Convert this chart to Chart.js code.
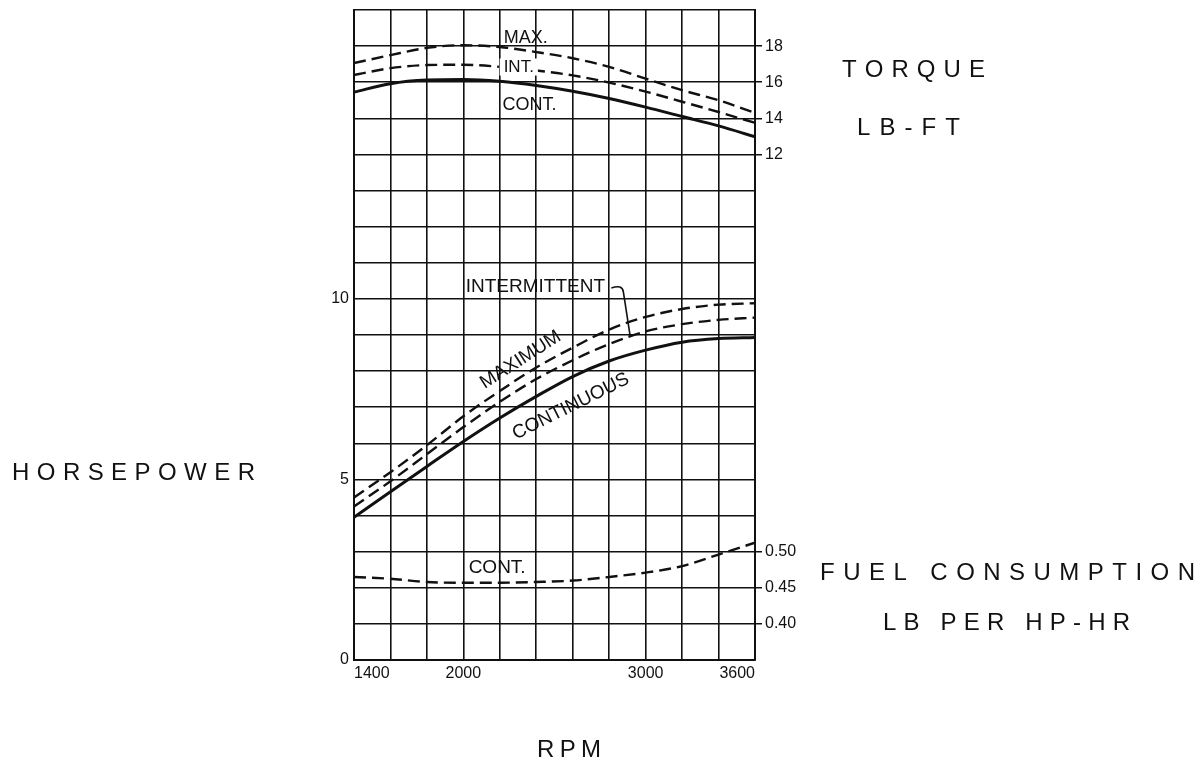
<!DOCTYPE html>
<html>
<head>
<meta charset="utf-8">
<script src="https://cdn.jsdelivr.net/npm/chart.js@4.4.1/dist/chart.umd.min.js"></script>
<style>
  html, body { margin: 0; padding: 0; background: #fff; }
  #wrap { width: 1202px; height: 765px; }
</style>
</head>
<body>
<div id="wrap"><canvas id="engine-chart" width="1202" height="765"></canvas></div>
<script>
// values
const rpm = [1400, 1600, 1800, 2000, 2200, 2400, 2600, 2800, 3000, 3200, 3400, 3600];

const torqueMax  = [17.06, 17.50, 17.90, 18.05, 17.95, 17.67, 17.33, 16.85, 16.20, 15.56, 15.00, 14.30];
const torqueInt  = [16.40, 16.78, 16.95, 16.97, 16.85, 16.65, 16.38, 15.98, 15.48, 14.92, 14.35, 13.75];
const torqueCont = [15.45, 15.92, 16.12, 16.15, 16.05, 15.82, 15.50, 15.10, 14.62, 14.10, 13.58, 12.98];

const hpMax  = [4.50, 5.20, 5.95, 6.75, 7.45, 8.10, 8.65, 9.15, 9.50, 9.72, 9.84, 9.88];
const hpInt  = [4.25, 4.95, 5.70, 6.45, 7.15, 7.78, 8.30, 8.75, 9.10, 9.30, 9.42, 9.48];
const hpCont = [3.95, 4.66, 5.36, 6.05, 6.70, 7.30, 7.85, 8.28, 8.58, 8.80, 8.90, 8.93];

const fuelCont = [0.465, 0.4625, 0.458, 0.457, 0.457, 0.458, 0.460, 0.465, 0.471, 0.480, 0.496, 0.5125];

const rpmTicks = [1400, 2000, 3000, 3600];
const hpTicks = [0, 5, 10];
const torqueTicks = [12, 14, 16, 18];
const fuelTicks = [0.40, 0.45, 0.50];

// axis ranges (torque and fuel share the horsepower grid)
const HP_MIN = 0, HP_MAX = 18;
const TQ_MIN = -16, TQ_MAX = 20;
const FUEL_MIN = 0.35, FUEL_MAX = 1.25;

const INK = '#111';
const FONT = '"Liberation Sans", Arial, sans-serif';

function pts(ys) {
    return rpm.map((r, i) => ({ x: r, y: ys[i] }));
}

// right-hand label: torque near the top, fuel figures near the bottom
function rightLabel(v) {
    if (torqueTicks.includes(v)) return String(v);
    const f = FUEL_MIN + (v - TQ_MIN) / (TQ_MAX - TQ_MIN) * (FUEL_MAX - FUEL_MIN);
    const hit = fuelTicks.find(t => Math.abs(t - f) < 1e-6);
    return hit !== undefined ? hit.toFixed(2) : '';
}

// text on the curves, placed in data units
const curveLabels = [
    { text: 'MAX.', x: 2221, y: 17.09, angle: 0, size: 18 },
    { text: 'INT.', x: 2221, y: 16.28, angle: 0, size: 17, knockout: true },
    { text: 'CONT.', x: 2215, y: 15.23, angle: 0, size: 18 },
    { text: 'INTERMITTENT', x: 2013, y: 10.19, angle: 0, size: 19 },
    { text: 'MAXIMUM', x: 2314, y: 8.31, angle: -32.6, size: 19, center: true },
    { text: 'CONTINUOUS', x: 2590, y: 7.02, angle: -26.5, size: 19, center: true },
    { text: 'CONT.', x: 2029, y: 2.41, angle: 0, size: 19 }
];
const intermittentHook = [[2812, 10.30], [2872, 10.41], [2878, 10.19], [2916, 8.94]];

// titles around the grid (canvas pixels)
const titles = [
    { text: 'TORQUE', x: 842, y: 77, w: 143 },
    { text: 'LB-FT', x: 857, y: 135, w: 103 },
    { text: 'HORSEPOWER', x: 12, y: 480, w: 243 },
    { text: 'FUEL CONSUMPTION', x: 820, y: 580, w: 375 },
    { text: 'LB PER HP-HR', x: 883, y: 630, w: 247 },
    { text: 'RPM', x: 537, y: 757, w: 64 }
];

function spacedText(ctx, text, x, y, width) {
    const chars = [...text];
    const raw = chars.reduce((s, c) => s + ctx.measureText(c).width, 0);
    const gap = chars.length > 1 ? (width - raw) / (chars.length - 1) : 0;
    let cx = x;
    for (const c of chars) {
        ctx.fillText(c, cx, y);
        cx += ctx.measureText(c).width + gap;
    }
}

const annotations = {
    id: 'annotations',
    afterDraw(chart) {
        const ctx = chart.ctx;
        const xs = chart.scales.x, ys = chart.scales.y;
        ctx.save();
        ctx.fillStyle = INK;
        ctx.strokeStyle = INK;
        ctx.textBaseline = 'alphabetic';
        curveLabels.forEach(l => {
            ctx.save();
            ctx.font = l.size + 'px ' + FONT;
            ctx.translate(xs.getPixelForValue(l.x), ys.getPixelForValue(l.y));
            ctx.rotate(l.angle * Math.PI / 180);
            if (l.center) {
                ctx.textAlign = 'center';
                ctx.textBaseline = 'middle';
            } else {
                ctx.textAlign = 'left';
            }
            if (l.knockout) {
                const w = ctx.measureText(l.text).width;
                ctx.fillStyle = '#fff';
                ctx.fillRect(-4, -l.size * 0.8, w + 8, l.size);
                ctx.fillStyle = INK;
            }
            ctx.fillText(l.text, 0, 0);
            ctx.restore();
        });
        // bracket from INTERMITTENT down to its curve
        const p = intermittentHook.map(([r, h]) => [xs.getPixelForValue(r), ys.getPixelForValue(h)]);
        ctx.lineWidth = 1.6;
        ctx.beginPath();
        ctx.moveTo(p[0][0], p[0][1]);
        ctx.quadraticCurveTo(p[1][0], p[1][1], p[2][0], p[2][1]);
        ctx.lineTo(p[3][0], p[3][1]);
        ctx.stroke();

        ctx.font = '24px ' + FONT;
        ctx.textAlign = 'left';
        titles.forEach(t => spacedText(ctx, t.text, t.x, t.y, t.w));
        ctx.restore();
    }
};

const gridStyle = { color: INK, lineWidth: 1.6, drawTicks: false };
const tickFont = { family: FONT, size: 16 };

function noEdgePadding(s) {
    s.paddingTop = 0;
    s.paddingBottom = 0;
}

new Chart(document.getElementById('engine-chart'), {
    type: 'line',
    data: {
        datasets: [
            { label: 'Torque max', data: pts(torqueMax), yAxisID: 'yTorque', borderDash: [12, 6], borderWidth: 2.4 },
            { label: 'Torque int', data: pts(torqueInt), yAxisID: 'yTorque', borderDash: [12, 6], borderWidth: 2.4 },
            { label: 'Torque cont', data: pts(torqueCont), yAxisID: 'yTorque', borderWidth: 3 },
            { label: 'HP maximum', data: pts(hpMax), yAxisID: 'y', borderDash: [12, 6], borderWidth: 2.4 },
            { label: 'HP intermittent', data: pts(hpInt), yAxisID: 'y', borderDash: [12, 6], borderWidth: 2.4 },
            { label: 'HP continuous', data: pts(hpCont), yAxisID: 'y', borderWidth: 3 },
            { label: 'Fuel cont', data: pts(fuelCont), yAxisID: 'yFuel', borderDash: [12, 6], borderWidth: 2.4 }
        ].map(d => Object.assign({
            borderColor: INK,
            pointRadius: 0,
            fill: false,
            cubicInterpolationMode: 'monotone'
        }, d))
    },
    options: {
        responsive: false,
        animation: false,
        layout: { padding: { left: 314, right: 387, top: 10, bottom: 75 } },
        plugins: { legend: { display: false }, tooltip: { enabled: false } },
        scales: {
            x: {
                type: 'linear', min: 1400, max: 3600,
                afterFit: s => { s.height = 30; s.paddingLeft = 0; s.paddingRight = 0; },
                grid: gridStyle,
                border: { color: INK, width: 2 },
                ticks: {
                    stepSize: 200, autoSkip: false, maxRotation: 0, align: 'inner', padding: 4,
                    color: INK, font: tickFont,
                    callback: v => rpmTicks.includes(v) ? String(v) : ''
                }
            },
            y: {
                position: 'left', min: HP_MIN, max: HP_MAX,
                afterFit: s => { s.width = 40; noEdgePadding(s); },
                grid: gridStyle,
                border: { color: INK, width: 2 },
                ticks: {
                    stepSize: 1, autoSkip: false, padding: 5,
                    color: INK, font: tickFont,
                    callback: v => hpTicks.includes(v) ? String(v) : ''
                }
            },
            yTorque: {
                position: 'right', min: TQ_MIN, max: TQ_MAX,
                afterFit: s => { s.width = 60; noEdgePadding(s); },
                grid: {
                    drawOnChartArea: false, drawTicks: true, tickLength: 7, lineWidth: 1.5,
                    color: c => (c.tick && rightLabel(c.tick.value)) ? INK : 'rgba(0,0,0,0)'
                },
                border: { color: INK, width: 2 },
                ticks: {
                    stepSize: 2, autoSkip: false, padding: 3,
                    color: INK, font: tickFont,
                    callback: v => rightLabel(v)
                }
            },
            yFuel: { display: false, min: FUEL_MIN, max: FUEL_MAX }
        }
    },
    plugins: [annotations]
});
</script>
</body>
</html>
